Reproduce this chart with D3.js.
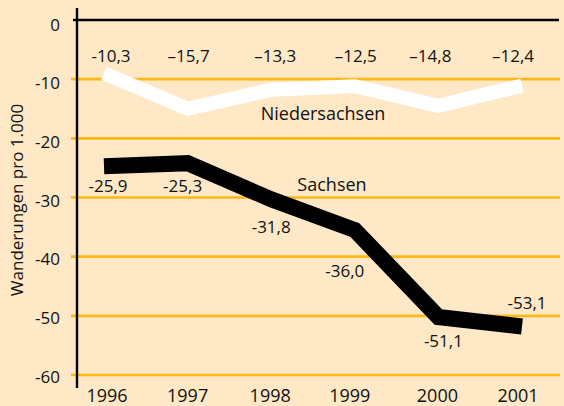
<!DOCTYPE html>
<html>
<head>
<meta charset="utf-8">
<script src="https://cdn.jsdelivr.net/npm/d3@7"></script>
<style>
  html, body { margin: 0; padding: 0; background: #fee8c6; }
  svg { display: block; font-family: "Open Sans", "Noto Sans", sans-serif; }
</style>
</head>
<body>
<svg id="chart" width="564" height="406"></svg>
<script>
// ---- data ----
const years = [1996, 1997, 1998, 1999, 2000, 2001];
const niedersachsenValues = [-9.0, -15.0, -11.8, -11.2, -14.5, -11.1];
const niedersachsenLabels = ["-10,3", "\u201315,7", "\u201313,3", "\u201312,5", "\u201314,8", "\u201312,4"];
const sachsenValues = [-24.7, -24.2, -30.3, -35.5, -50.2, -51.8];
const sachsenLabels = ["-25,9", "-25,3", "-31,8", "-36,0", "-51,1", "-53,1"];
const yTicks = [0, -10, -20, -30, -40, -50, -60];
const yTickLabels = ["0", "-10", "-20", "-30", "-40", "-50", "-60"];
const seriesNames = ["Niedersachsen", "Sachsen"];
const yTitle = "Wanderungen pro 1.000";

// ---- layout ----
const svg = d3.select("#chart");
const W = 564, H = 406;
svg.append("rect").attr("width", W).attr("height", H).attr("fill", "#fee8c6");

const x = d3.scalePoint().domain(years).range([104, 522]);
const y = d3.scaleLinear().domain([0, -60]).range([20, 375]);
const yLab = d3.scaleLinear().domain([0, -60]).range([24.5, 376.5]);

const gridColor = "#fdb716";

svg.append("g").selectAll("line")
  .data(yTicks.filter(d => d !== 0))
  .join("line")
  .attr("x1", 71).attr("x2", 560)
  .attr("y1", d => y(d)).attr("y2", d => y(d))
  .attr("stroke", gridColor).attr("stroke-width", 2.6);

svg.append("line")
  .attr("x1", 73).attr("x2", 559)
  .attr("y1", y(0)).attr("y2", y(0))
  .attr("stroke", "#000").attr("stroke-width", 2.4);

svg.append("line")
  .attr("x1", 77).attr("x2", 77)
  .attr("y1", 8).attr("y2", 388)
  .attr("stroke", "#000").attr("stroke-width", 2.4);

svg.append("g").selectAll("text")
  .data(yTicks)
  .join("text")
  .attr("x", 60)
  .attr("y", d => yLab(d))
  .attr("dy", "0.36em")
  .attr("text-anchor", "end")
  .attr("font-size", 17)
  .attr("fill", "#111")
  .text((d, i) => yTickLabels[i]);

svg.append("g").selectAll("text")
  .data(years)
  .join("text")
  .attr("x", (d, i) => x(d) + [3, 0, -1, -5, -1, -4][i])
  .attr("y", 402)
  .attr("text-anchor", "middle")
  .attr("font-size", 18)
  .attr("fill", "#111")
  .text(d => d);

svg.append("text")
  .attr("transform", "translate(23,200) rotate(-90)")
  .attr("text-anchor", "middle")
  .attr("font-size", 17)
  .attr("fill", "#111")
  .text(yTitle);

const line = d3.line().x(d => x(d[0])).y(d => y(d[1])).curve(d3.curveLinear);

svg.append("path")
  .datum(years.map((yr, i) => [yr, niedersachsenValues[i]]))
  .attr("d", line)
  .attr("fill", "none")
  .attr("stroke", "#fff")
  .attr("stroke-width", 14)
  .attr("stroke-linejoin", "miter")
  .attr("stroke-linecap", "butt");

svg.append("path")
  .datum(years.map((yr, i) => [yr, sachsenValues[i]]))
  .attr("d", line)
  .attr("fill", "none")
  .attr("stroke", "#000")
  .attr("stroke-width", 16)
  .attr("stroke-linejoin", "miter")
  .attr("stroke-linecap", "butt");

const nDx = [7, 1, 4, 1, -8, -9];
svg.append("g").selectAll("text")
  .data(years)
  .join("text")
  .attr("x", (d, i) => x(d) + nDx[i])
  .attr("y", 62)
  .attr("text-anchor", "middle")
  .attr("font-size", 17)
  .attr("fill", "#111")
  .text((d, i) => niedersachsenLabels[i]);

const sDx = [4, -5, 0, -10, 5, 5];
const sDy = [26, 29, 34, 47, 30, -17];
svg.append("g").selectAll("text")
  .data(years)
  .join("text")
  .attr("x", (d, i) => x(d) + sDx[i])
  .attr("y", (d, i) => y(sachsenValues[i]) + sDy[i])
  .attr("text-anchor", "middle")
  .attr("font-size", 17)
  .attr("fill", "#111")
  .text((d, i) => sachsenLabels[i]);

svg.append("text")
  .attr("x", (x(1998) + x(1999)) / 2 + 10)
  .attr("y", 120)
  .attr("text-anchor", "middle")
  .attr("font-size", 18)
  .attr("fill", "#111")
  .text(seriesNames[0]);

svg.append("text")
  .attr("x", (x(1998) + x(1999)) / 2 + 19)
  .attr("y", 191)
  .attr("text-anchor", "middle")
  .attr("font-size", 18)
  .attr("fill", "#111")
  .text(seriesNames[1]);
</script>
</body>
</html>
